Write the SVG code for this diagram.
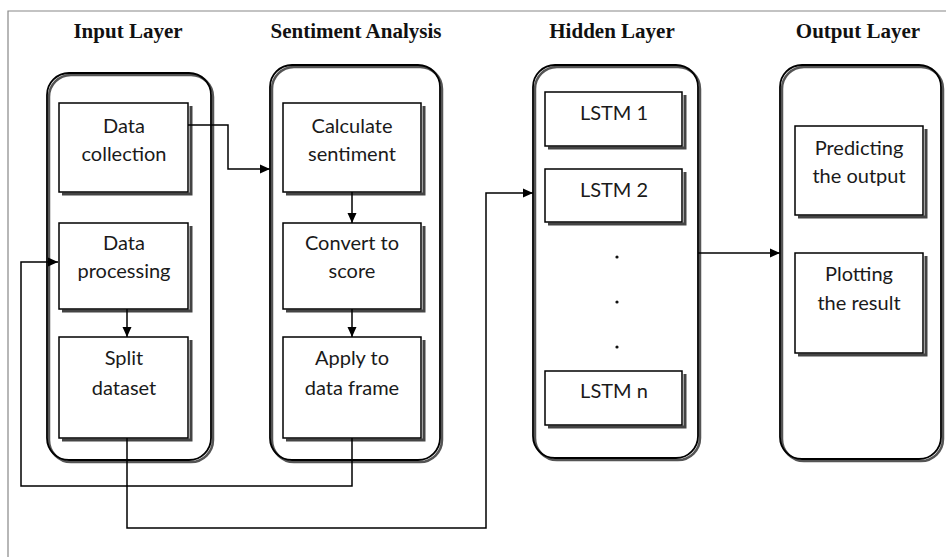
<svg xmlns="http://www.w3.org/2000/svg" width="946" height="557" viewBox="0 0 946 557">
<defs>
<marker id="arr" markerWidth="10" markerHeight="10" refX="10" refY="5" orient="auto" markerUnits="userSpaceOnUse">
<path d="M0,0.5 L10,5 L0,9.5 Z" fill="#000"/>
</marker>
<style>
.title{font-family:"Liberation Serif","Times New Roman",serif;font-weight:bold;font-size:21px;fill:#111;text-anchor:middle}
.lbl{font-family:Lato,"Liberation Sans",sans-serif;font-size:20px;fill:#1a1a1a;text-anchor:middle}
.cont{fill:none;stroke:#000;stroke-width:1.8}
.contsh{fill:none;stroke:#555;stroke-width:2.5}
.box{fill:#fff;stroke:#000;stroke-width:1.5}
.boxsh{fill:none;stroke:#444;stroke-width:3}
.conn{fill:none;stroke:#000;stroke-width:1.5}
.frame{fill:none;stroke:#888;stroke-width:1.2}
</style>
</defs>
<rect width="946" height="557" fill="#fff"/>
<path class="frame" d="M8,557 L8,11 L946,11"/>

<text class="title" x="128" y="38">Input Layer</text>
<text class="title" x="356" y="38">Sentiment Analysis</text>
<text class="title" x="612" y="38">Hidden Layer</text>
<text class="title" x="858" y="38">Output Layer</text>

<g id="input-layer">
<rect class="contsh" x="49" y="75" width="164" height="387" rx="22"/>
<rect class="cont" x="47" y="73" width="164" height="387" rx="22" fill="#fff"/>
</g>
<g id="sentiment-layer">
<rect class="contsh" x="272" y="67" width="170" height="395" rx="22"/>
<rect class="cont" x="270" y="65" width="170" height="395" rx="22" fill="#fff"/>
</g>
<g id="hidden-layer">
<rect class="contsh" x="535" y="67" width="165" height="393" rx="22"/>
<rect class="cont" x="533" y="65" width="165" height="393" rx="22" fill="#fff"/>
</g>
<g id="output-layer">
<rect class="contsh" x="782" y="67" width="161" height="394" rx="22"/>
<rect class="cont" x="780" y="65" width="161" height="394" rx="22" fill="#fff"/>
</g>

<g id="data-collection">
<path class="boxsh" d="M62,194 L191,194 L191,106"/>
<rect class="box" x="59" y="103" width="129" height="89"/>
<text class="lbl" x="124" y="133">Data</text>
<text class="lbl" x="124" y="161">collection</text>
</g>
<g id="data-processing">
<path class="boxsh" d="M62,311 L191,311 L191,226"/>
<rect class="box" x="59" y="223" width="129" height="86"/>
<text class="lbl" x="124" y="250">Data</text>
<text class="lbl" x="124" y="278">processing</text>
</g>
<g id="split-dataset">
<path class="boxsh" d="M62,440 L191,440 L191,340"/>
<rect class="box" x="59" y="337" width="129" height="101"/>
<text class="lbl" x="124" y="365">Split</text>
<text class="lbl" x="124" y="395">dataset</text>
</g>

<g id="calculate-sentiment">
<path class="boxsh" d="M286,194 L424,194 L424,106"/>
<rect class="box" x="283" y="103" width="138" height="89"/>
<text class="lbl" x="352" y="133">Calculate</text>
<text class="lbl" x="352" y="161">sentiment</text>
</g>
<g id="convert-to-score">
<path class="boxsh" d="M286,311 L424,311 L424,226"/>
<rect class="box" x="283" y="223" width="138" height="86"/>
<text class="lbl" x="352" y="250">Convert to</text>
<text class="lbl" x="352" y="278">score</text>
</g>
<g id="apply-to-data-frame">
<path class="boxsh" d="M286,440 L424,440 L424,340"/>
<rect class="box" x="283" y="337" width="138" height="101"/>
<text class="lbl" x="352" y="365">Apply to</text>
<text class="lbl" x="352" y="395">data frame</text>
</g>

<g id="lstm-1">
<path class="boxsh" d="M548,148 L685,148 L685,95"/>
<rect class="box" x="545" y="92" width="137" height="54"/>
<text class="lbl" x="614" y="120">LSTM 1</text>
</g>
<g id="lstm-2">
<path class="boxsh" d="M548,224 L685,224 L685,172"/>
<rect class="box" x="545" y="169" width="137" height="53"/>
<text class="lbl" x="614" y="197">LSTM 2</text>
</g>
<g id="ellipsis">
<circle cx="617" cy="257" r="1.6" fill="#111"/>
<circle cx="617" cy="302" r="1.6" fill="#111"/>
<circle cx="617" cy="347" r="1.6" fill="#111"/>
</g>
<g id="lstm-n">
<path class="boxsh" d="M548,427 L685,427 L685,374"/>
<rect class="box" x="545" y="371" width="137" height="54"/>
<text class="lbl" x="614" y="398">LSTM n</text>
</g>

<g id="predicting-output">
<path class="boxsh" d="M798,217 L926,217 L926,129"/>
<rect class="box" x="795" y="126" width="128" height="89"/>
<text class="lbl" x="859" y="155">Predicting</text>
<text class="lbl" x="859" y="183">the output</text>
</g>
<g id="plotting-result">
<path class="boxsh" d="M798,355 L926,355 L926,256"/>
<rect class="box" x="795" y="253" width="128" height="100"/>
<text class="lbl" x="859" y="281">Plotting</text>
<text class="lbl" x="859" y="310">the result</text>
</g>

<g id="connectors">
<path class="conn" d="M188,125 L228,125 L228,169 L270,169" marker-end="url(#arr)"/>
<path class="conn" d="M352,192 L352,223" marker-end="url(#arr)"/>
<path class="conn" d="M352,309 L352,337" marker-end="url(#arr)"/>
<path class="conn" d="M127,309 L127,337" marker-end="url(#arr)"/>
<path class="conn" d="M352,438 L352,486 L21,486 L21,262 L58,262" marker-end="url(#arr)"/>
<path class="conn" d="M127,438 L127,528 L486,528 L486,193 L533,193" marker-end="url(#arr)"/>
<path class="conn" d="M698,253 L780,253" marker-end="url(#arr)"/>
</g>
</svg>
